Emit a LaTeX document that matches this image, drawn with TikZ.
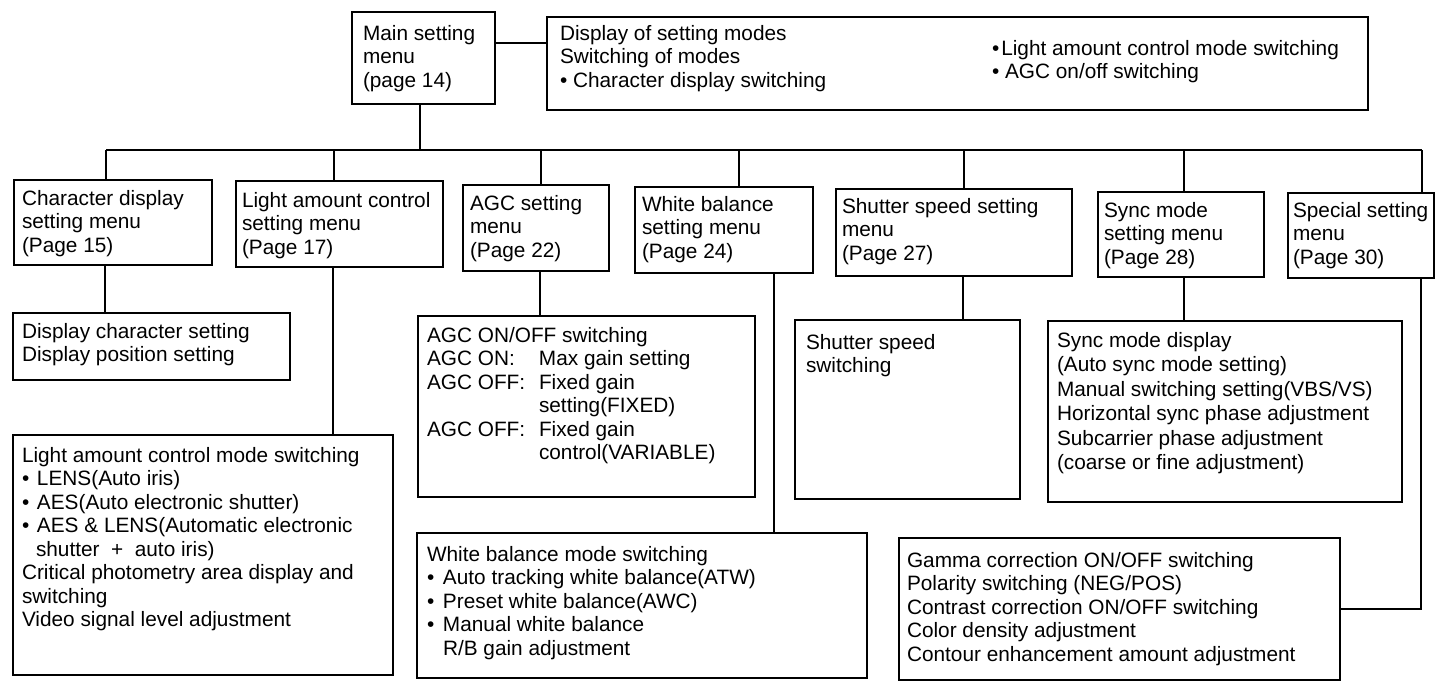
\documentclass[tikz,border=0pt]{standalone}
\usepackage{fontspec}
\setmainfont{Liberation Sans}
\usetikzlibrary{calc}
\tikzset{
  boxst/.style={draw, line width=0.9pt, rectangle, inner sep=0pt, outer sep=0pt},
  txt/.style={inner sep=0pt, outer sep=0pt, align=left, anchor=north west, font=\fontsize{10.4pt}{11.75pt}\selectfont},
  wide/.style={font=\fontsize{10.4pt}{12.25pt}\selectfont},
  wire/.style={line width=0.9pt},
}
\newcommand\mybox[5]{\node[boxst, anchor=north west, minimum width={(#4-#2)*0.5pt}, minimum height={(#5-#3)*0.5pt}] (#1) at (#2,#3) {};}
\begin{document}
\begin{tikzpicture}[x=0.5pt,y=-0.5pt]
\useasboundingbox (0,0) rectangle (1436,682);
% boxes
\mybox{main}{352}{12}{495}{104}
\mybox{desc}{547}{17}{1368}{110}
\mybox{charm}{14}{180}{212}{265}
\mybox{lightm}{236}{181}{443}{267}
\mybox{agcm}{463}{185}{609}{271}
\mybox{wbm}{635}{187}{813}{273}
\mybox{shutm}{836}{189}{1072}{276}
\mybox{syncm}{1098}{192}{1264}{277}
\mybox{specm}{1288}{193}{1434}{278}
\mybox{disp}{13}{313}{290}{380}
\mybox{lightd}{13}{435}{393}{675}
\mybox{agcd}{418}{316}{755}{497}
\mybox{wbd}{417}{533}{867}{678}
\mybox{shutd}{795}{320}{1020}{499}
\mybox{syncd}{1048}{321}{1402}{502}
\mybox{gamma}{899}{538}{1340}{680}
% texts
\node[txt] (maint) at (363,25) {Main setting\\menu\\(page 14)};
\node[txt] (desct1) at (560,25) {Display of setting modes\\Switching of modes\\• Character display switching};
\node[txt] (desct2) at (992,40) {•\hspace{1pt}Light amount control mode switching\\• AGC on/off switching};
\node[txt] (charmt) at (22,190) {Character display\\setting menu\\(Page 15)};
\node[txt] (lightmt) at (242,192) {Light amount control\\setting menu\\(Page 17)};
\node[txt] (agcmt) at (470,195) {AGC setting\\menu\\(Page 22)};
\node[txt] (wbmt) at (642,196) {White balance\\setting menu\\(Page 24)};
\node[txt] (shutmt) at (842,198) {Shutter speed setting\\menu\\(Page 27)};
\node[txt] (syncmt) at (1104,202) {Sync mode\\setting menu\\(Page 28)};
\node[txt] (specmt) at (1293,202) {Special setting\\menu\\(Page 30)};
\node[txt] (dispt) at (22,323) {Display character setting\\Display position setting};
\node[txt] (lightdt) at (22,447) {Light amount control mode switching\\
\makebox[7.5pt][l]{•}LENS(Auto iris)\\
\makebox[7.5pt][l]{•}AES(Auto electronic shutter)\\
\makebox[7.5pt][l]{•}AES \& LENS(Automatic electronic\\
\hspace*{7pt}shutter \ + \ auto iris)\\
Critical photometry area display and\\
switching\\
Video signal level adjustment};
\node[txt] (agcdt) at (427,327) {AGC ON/OFF switching\\
\makebox[56pt][l]{AGC ON:}Max gain setting\\
\makebox[56pt][l]{AGC OFF:}Fixed gain\\
\hspace*{56pt}setting(FIXED)\\
\makebox[56pt][l]{AGC OFF:}Fixed gain\\
\hspace*{56pt}control(VARIABLE)};
\node[txt] (wbdt) at (427,546) {White balance mode switching\\
\makebox[8pt][l]{•}Auto tracking white balance(ATW)\\
\makebox[8pt][l]{•}Preset white balance(AWC)\\
\makebox[8pt][l]{•}Manual white balance\\
\hspace*{8pt}R/B gain adjustment};
\node[txt] (shutdt) at (806,334) {Shutter speed\\switching};
\node[txt, wide] (syncdt) at (1057,332) {Sync mode display\\(Auto sync mode setting)\\Manual switching setting(VBS/VS)\\Horizontal sync phase adjustment\\Subcarrier phase adjustment\\(coarse or fine adjustment)};
\node[txt] (gammat) at (907,552) {Gamma correction ON/OFF switching\\Polarity switching (NEG/POS)\\Contrast correction ON/OFF switching\\Color density adjustment\\Contour enhancement amount adjustment};
% connectors
\coordinate (busL) at (106,150);
\coordinate (busR) at (1422,150);
\draw[wire] ([yshift=7.5pt]main.east) -- ([yshift=7.5pt]main.east -| desc.west);
\draw[wire] ([xshift=-1.75pt]main.south) -- ([xshift=-1.75pt]main.south |- busL);
\draw[wire] (busL) -- (busR);
\draw[wire] ([xshift=-3.5pt]charm.north) -- ([xshift=-3.5pt]charm.north |- busL);
\draw[wire] ([xshift=-2.75pt]lightm.north) -- ([xshift=-2.75pt]lightm.north |- busL);
\draw[wire] ([xshift=2.5pt]agcm.north) -- ([xshift=2.5pt]agcm.north |- busL);
\draw[wire] ([xshift=7.5pt]wbm.north) -- ([xshift=7.5pt]wbm.north |- busL);
\draw[wire] ([xshift=5pt]shutm.north) -- ([xshift=5pt]shutm.north |- busL);
\draw[wire] ([xshift=1.5pt]syncm.north) -- ([xshift=1.5pt]syncm.north |- busL);
\draw[wire] ([xshift=30.5pt]specm.north) -- ([xshift=30.5pt]specm.north |- busL);
\draw[wire] ([xshift=-4pt]charm.south) -- ([xshift=-4pt]charm.south |- disp.north);
\draw[wire] ([xshift=-3.25pt]lightm.south) -- ([xshift=-3.25pt]lightm.south |- lightd.north);
\draw[wire] ([xshift=2pt]agcm.south) -- ([xshift=2pt]agcm.south |- agcd.north);
\draw[wire] ([xshift=25pt]wbm.south) -- ([xshift=25pt]wbm.south |- wbd.north);
\draw[wire] ([xshift=4.5pt]shutm.south) -- ([xshift=4.5pt]shutm.south |- shutd.north);
\draw[wire] ([xshift=1.5pt]syncm.south) -- ([xshift=1.5pt]syncm.south |- syncd.north);
\draw[wire] ([xshift=30pt]specm.south) |- (gamma.east);
\end{tikzpicture}
\end{document}
